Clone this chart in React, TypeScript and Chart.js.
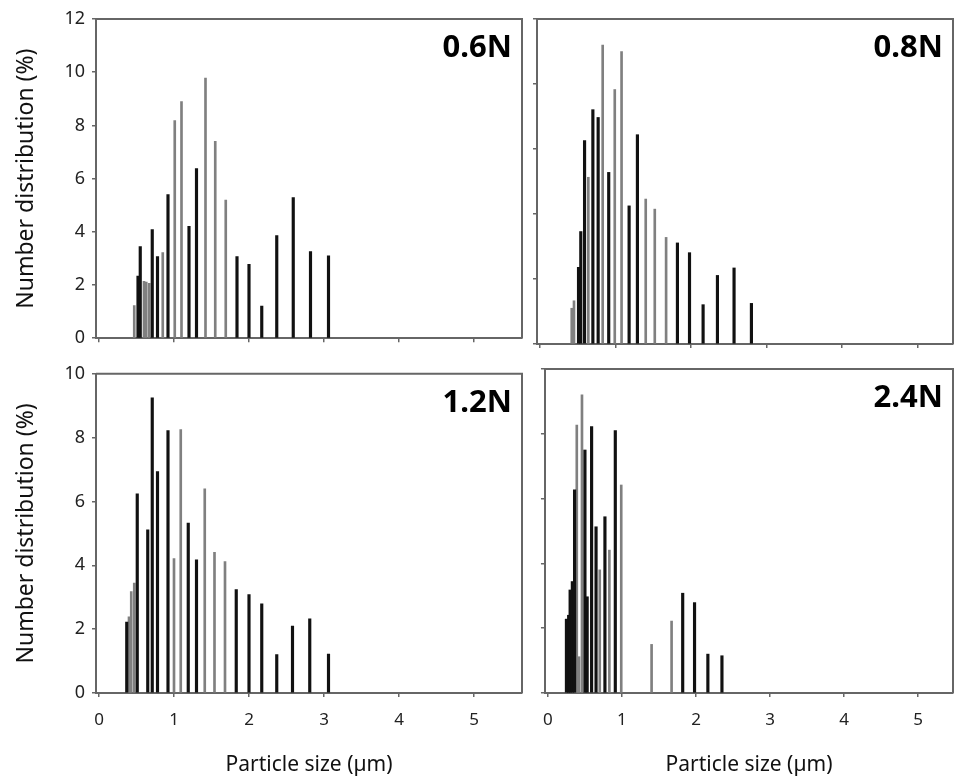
import React, { useEffect, useRef } from "react";
import { Chart, registerables } from "chart.js";

Chart.register(...registerables);

// ---------- data ----------
const xTickValues = [0, 1, 2, 3, 4, 5];
const yTicksTop = [0, 2, 4, 6, 8, 10, 12];
const yTicksTen = [0, 2, 4, 6, 8, 10];

const panelNames = ["0.6N", "0.8N", "1.2N", "2.4N"];

// 0.6N
const size06 = [0.47, 0.52, 0.55, 0.6, 0.63, 0.67, 0.71, 0.78, 0.85, 0.92, 1.01, 1.1, 1.2, 1.3, 1.42, 1.55, 1.69, 1.84, 2.0, 2.17, 2.37, 2.59, 2.82, 3.06];
const dist06 = [1.23, 2.34, 3.44, 2.14, 2.11, 2.06, 4.08, 3.07, 3.22, 5.4, 8.18, 8.9, 4.21, 6.38, 9.78, 7.4, 5.19, 3.07, 2.78, 1.21, 3.86, 5.29, 3.26, 3.1];
const tone06 = [0, 1, 1, 0, 0, 0, 1, 1, 0, 1, 0, 0, 1, 1, 0, 0, 0, 1, 1, 1, 1, 1, 1, 1];

// 0.8N
const size08 = [0.42, 0.45, 0.51, 0.54, 0.59, 0.64, 0.7, 0.77, 0.83, 0.91, 0.99, 1.08, 1.18, 1.29, 1.4, 1.52, 1.67, 1.82, 1.98, 2.16, 2.35, 2.57, 2.8];
const dist08 = [1.1, 1.33, 2.36, 3.46, 6.26, 5.13, 7.21, 6.97, 9.2, 5.28, 7.83, 9.0, 4.25, 6.44, 4.46, 4.15, 3.28, 3.11, 2.81, 1.21, 2.11, 2.34, 1.25];
const tone08 = [0, 0, 1, 1, 1, 0, 1, 1, 0, 1, 0, 0, 1, 1, 0, 0, 0, 1, 1, 1, 1, 1, 1];

// 1.2N
const size12 = [0.37, 0.4, 0.43, 0.47, 0.51, 0.65, 0.71, 0.78, 0.92, 1.0, 1.09, 1.19, 1.3, 1.41, 1.54, 1.68, 1.83, 2.0, 2.17, 2.37, 2.58, 2.81, 3.06];
const dist12 = [2.22, 2.39, 3.18, 3.44, 6.24, 5.11, 9.25, 6.94, 8.22, 4.21, 8.25, 5.32, 4.17, 6.4, 4.41, 4.12, 3.24, 3.08, 2.79, 1.2, 2.1, 2.32, 1.22];
const tone12 = [1, 0, 0, 0, 1, 1, 1, 1, 1, 0, 0, 1, 1, 0, 0, 0, 1, 1, 1, 1, 1, 1, 1];

// 2.4N
const size24 = [0.25, 0.28, 0.3, 0.33, 0.36, 0.39, 0.42, 0.46, 0.5, 0.53, 0.59, 0.65, 0.7, 0.77, 0.83, 0.91, 0.99, 1.4, 1.67, 1.82, 1.98, 2.16, 2.35];
const dist24 = [2.28, 2.4, 3.18, 3.44, 6.27, 8.27, 1.12, 9.2, 7.5, 2.97, 8.22, 5.13, 3.8, 5.44, 4.41, 8.1, 6.42, 1.5, 2.22, 3.08, 2.79, 1.2, 1.15];
const tone24 = [1, 1, 1, 1, 1, 0, 0, 0, 1, 1, 1, 1, 0, 1, 0, 1, 0, 0, 0, 1, 1, 1, 1];

const xTitle = "Particle size (µm)";
const yTitle = "Number distribution (%)";

// ---------- styling ----------
const FONT = "'Noto Sans', 'Open Sans', sans-serif";
const AXIS = "#666";
const DARK = "#111";
const LIGHT = "#808080";

type Spec = {
  name: string;
  sizes: number[];
  values: number[];
  tones: number[];
  yTicks: number[];
  yMax: number;
  xMin: number;
  xMax: number;
  left: number;
  top: number;
  w: number;
  h: number;
  yWidth: number;
  xHeight: number;
  padTop: number;
  padRight: number;
  showX: boolean;
  showY: boolean;
};

const framePlugin = {
  id: "panelFrame",
  afterDraw(chart: any, _args: any, opts: any) {
    const { ctx, chartArea } = chart;
    const { left, top, right, bottom } = chartArea;
    ctx.save();
    ctx.strokeStyle = AXIS;
    ctx.lineWidth = 2;
    ctx.beginPath();
    ctx.moveTo(left, top);
    ctx.lineTo(right, top);
    ctx.lineTo(right, bottom);
    ctx.stroke();
    ctx.fillStyle = "#000";
    ctx.font = `bold 31px ${FONT}`;
    ctx.textAlign = "right";
    ctx.textBaseline = "alphabetic";
    ctx.fillText(opts.text, right - 10, top + 38);
    ctx.restore();
  },
};

function Panel({ spec }: { spec: Spec }) {
  const ref = useRef<HTMLCanvasElement>(null);
  useEffect(() => {
    if (!ref.current) return;
    const points = spec.sizes.map((x, i) => ({ x, y: spec.values[i] }));
    const make = (dark: number) => ({
      label: dark ? "a" : "b",
      data: points.filter((_, i) => spec.tones[i] === dark),
      backgroundColor: dark ? DARK : LIGHT,
      borderWidth: 0,
      barThickness: dark ? 2.5 : 2,
      grouped: false,
    });
    const chart = new Chart(ref.current, {
      type: "bar",
      data: { datasets: [make(1), make(0)] as any },
      options: {
        animation: false,
        responsive: false,
        maintainAspectRatio: false,
        layout: { padding: { top: spec.padTop, right: spec.padRight, left: 0, bottom: 0 } },
        plugins: {
          legend: { display: false },
          tooltip: { enabled: false },
          panelFrame: { text: spec.name },
        } as any,
        scales: {
          x: {
            type: "linear",
            min: spec.xMin,
            max: spec.xMax,
            offset: false,
            afterBuildTicks: (s: any) => {
              s.ticks = xTickValues.map((v) => ({ value: v }));
            },
            afterFit: (s: any) => {
              s.height = spec.xHeight;
            },
            grid: { drawOnChartArea: false, drawTicks: true, tickLength: 4, color: AXIS, lineWidth: 1.5, offset: false },
            border: { color: AXIS, width: 2 },
            ticks: {
              display: spec.showX,
              font: { family: FONT, size: 17 },
              color: "#222",
              padding: 13,
              maxRotation: 0,
              autoSkip: false,
            },
            title: {
              display: spec.showX,
              text: xTitle,
              font: { family: FONT, size: 21 },
              color: "#111",
              padding: { top: 0, bottom: 3 },
            },
          },
          y: {
            type: "linear",
            min: 0,
            max: spec.yMax,
            afterBuildTicks: (s: any) => {
              s.ticks = spec.yTicks.map((v) => ({ value: v }));
            },
            afterFit: (s: any) => {
              s.width = spec.yWidth;
            },
            grid: { drawOnChartArea: false, drawTicks: true, tickLength: 4, color: AXIS, lineWidth: 1.5 },
            border: { color: AXIS, width: 2 },
            ticks: {
              display: spec.showY,
              font: { family: FONT, size: 18 },
              color: "#222",
              padding: 7,
              autoSkip: false,
            },
            title: {
              display: spec.showY,
              text: yTitle,
              font: { family: FONT, size: 23 },
              color: "#111",
              padding: { top: 13, bottom: 0 },
            },
          },
        },
      } as any,
      plugins: [framePlugin as any],
    });
    return () => chart.destroy();
  }, [spec]);
  return (
    <canvas
      ref={ref}
      width={spec.w}
      height={spec.h}
      style={{ position: "absolute", left: spec.left, top: spec.top, width: spec.w, height: spec.h }}
    />
  );
}

const specs: Spec[] = [
  {
    name: panelNames[0], sizes: size06, values: dist06, tones: tone06,
    yTicks: yTicksTop, yMax: 12, xMin: -0.04, xMax: 5.64,
    left: 0, top: 0, w: 530, h: 356, yWidth: 96, xHeight: 12, padTop: 19, padRight: 8,
    showX: false, showY: true,
  },
  {
    name: panelNames[1], sizes: size08, values: dist08, tones: tone08,
    yTicks: yTicksTen, yMax: 10, xMin: -0.04, xMax: 5.47,
    left: 530, top: 0, w: 426, h: 356, yWidth: 7, xHeight: 12, padTop: 19, padRight: 3,
    showX: false, showY: false,
  },
  {
    name: panelNames[2], sizes: size12, values: dist12, tones: tone12,
    yTicks: yTicksTen, yMax: 10, xMin: -0.04, xMax: 5.64,
    left: 0, top: 356, w: 530, h: 425, yWidth: 96, xHeight: 88, padTop: 13, padRight: 8,
    showX: true, showY: true,
  },
  {
    name: panelNames[3], sizes: size24, values: dist24, tones: tone24,
    yTicks: yTicksTen, yMax: 10, xMin: -0.04, xMax: 5.47,
    left: 530, top: 356, w: 426, h: 425, yWidth: 7, xHeight: 88, padTop: 13, padRight: 3,
    showX: true, showY: false,
  },
];

export default function App() {
  return (
    <div style={{ position: "absolute", left: 0, top: 0, width: 956, height: 781, background: "#fff" }}>
      {specs.map((s) => (
        <Panel key={s.name} spec={s} />
      ))}
    </div>
  );
}
